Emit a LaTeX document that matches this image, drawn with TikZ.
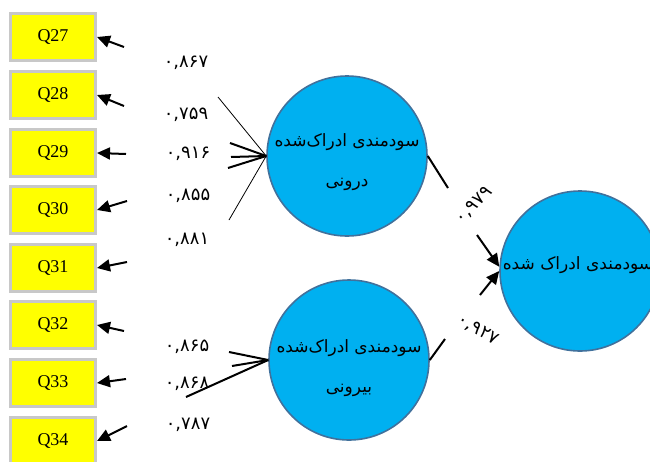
\documentclass[tikz,border=0pt]{standalone}
\usepackage{fontspec}
\setmainfont{Liberation Serif}
\newfontfamily\farsi[Script=Arabic]{DejaVu Sans}
\TeXXeTstate=1
\usetikzlibrary{arrows.meta}
\definecolor{itemfill}{HTML}{FFFF00}
\definecolor{itemline}{HTML}{C8C8C8}
\definecolor{latentfill}{HTML}{00B0F0}
\definecolor{latentline}{HTML}{41719C}

\begin{document}
\begin{tikzpicture}[x=1pt,y=-1pt,
  item/.style = {draw=itemline, line width=3pt, fill=itemfill,
    minimum width=85pt, minimum height=47pt, inner sep=0pt,
    font=\fontsize{18}{20}\selectfont},
  latent/.style = {circle, draw=latentline, line width=1.6pt,
    fill=latentfill, minimum size=160pt, inner sep=0pt},
  latent text/.style = {align=center, inner sep=0pt,
    font=\farsi\fontsize{17}{40}\selectfont},
  weight/.style = {font=\farsi\fontsize{18}{20}\selectfont, inner sep=1pt},
  path arrow/.style = {-{Triangle[length=13pt,width=12pt]}, line width=2pt},
  thick stub/.style = {line width=2pt},
  thin stub/.style = {line width=0.8pt}]
  \clip (0,0) rectangle (650,461);
  % observed items
  \node[item] (q27) at (53,37) {Q27};
  \node[item] (q28) at (53,95) {Q28};
  \node[item] (q29) at (53,153) {Q29};
  \node[item] (q30) at (53,210) {Q30};
  \node[item] (q31) at (53,268) {Q31};
  \node[item] (q32) at (53,325) {Q32};
  \node[item] (q33) at (53,383) {Q33};
  \node[item] (q34) at (53,441) {Q34};
  % latent variables
  \node[latent] (inner) at (347,156) {};
  \node[latent] (outer) at (349,360) {};
  \node[latent] (total) at (580,271) {};
  \node[latent text] (innerlabel) at (347,162) {\beginR سودمندی ادراک^^^^200cشده\endR\\ \beginR درونی\endR};
  \node[latent text] (outerlabel) at (349,368) {\beginR سودمندی ادراک^^^^200cشده\endR\\ \beginR بیرونی\endR};
  \node[latent text] (totallabel) at (578,265) {\beginR سودمندی ادراک شده\endR};
  % loadings
  \node[weight] (w27) at (186,63) {۰,۸۶۷};
  \node[weight] (w28) at (186,115) {۰,۷۵۹};
  \node[weight] (w29) at (188,154) {۰,۹۱۶};
  \node[weight] (w30) at (188,196) {۰,۸۵۵};
  \node[weight] (w31) at (187,240) {۰,۸۸۱};
  \node[weight] (w32) at (187,347) {۰,۸۶۵};
  \node[weight] (w33) at (187,384) {۰,۸۶۸};
  \node[weight] (w34) at (188,425) {۰,۷۸۷};
  \node[weight, rotate=45] (wi) at (474,205) {۰,۹۷۹};
  \node[weight, rotate=-30] (wo) at (478,330) {۰,۹۲۷};
  % free ends of the broken paths
  \coordinate (e27) at (124,47);
  \coordinate (e28) at (124,106);
  \coordinate (e29) at (126,154);
  \coordinate (e30) at (127,201);
  \coordinate (e31) at (127,262);
  \coordinate (e32) at (124,331);
  \coordinate (e33) at (126,379);
  \coordinate (e34) at (127,426);
  \coordinate (a1) at (218,97);
  \coordinate (a2) at (230,143);
  \coordinate (a3) at (231,157);
  \coordinate (a4) at (228,168);
  \coordinate (a5) at (229,220);
  \coordinate (b1) at (229,352);
  \coordinate (b2) at (232,366);
  \coordinate (b3) at (186,397);
  \coordinate (ri) at (448,188);
  \coordinate (si) at (477,235);
  \coordinate (ro) at (445,339);
  \coordinate (so) at (480,295);
  % paths
  \draw[path arrow] (e27) -- (q27.east);
  \draw[path arrow] (e28) -- (q28.east);
  \draw[path arrow] (e29) -- (q29.east);
  \draw[path arrow] (e30) -- (q30.east);
  \draw[path arrow] (e31) -- (q31.east);
  \draw[path arrow] (e32) -- (q32.east);
  \draw[path arrow] (e33) -- (q33.east);
  \draw[path arrow] (e34) -- (q34.east);
  \draw[thin stub] (a1) -- (inner.west);
  \draw[thick stub] (a2) -- (inner.west);
  \draw[thick stub] (a3) -- (inner.west);
  \draw[thick stub] (a4) -- (inner.west);
  \draw[thin stub] (a5) -- (inner.west);
  \draw[thick stub] (b1) -- (outer.west);
  \draw[thick stub] (b2) -- (outer.west);
  \draw[thick stub] (b3) -- (outer.west);
  \draw[thick stub] (inner.east) -- (ri);
  \draw[thick stub] (outer.east) -- (ro);
  \draw[path arrow] (si) -- (total.177);
  \draw[path arrow] (so) -- (total.west);
\end{tikzpicture}
\end{document}
